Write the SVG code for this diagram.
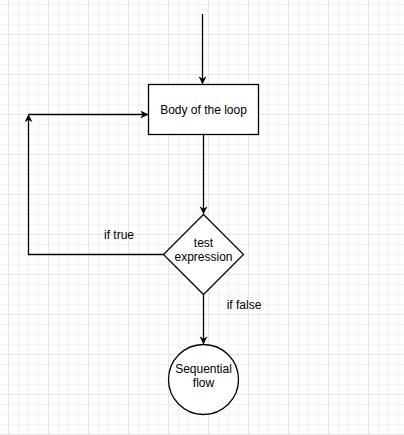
<svg xmlns="http://www.w3.org/2000/svg" width="404" height="435" viewBox="0 0 404 435">
<defs>
<pattern id="minor" width="10" height="10" patternUnits="userSpaceOnUse" x="8" y="4">
<path d="M0.5 0V10M0 0.5H10" fill="none" stroke="#f3f3f3" stroke-width="1"/>
</pattern>
<pattern id="major" width="40" height="40" patternUnits="userSpaceOnUse" x="8" y="34">
<path d="M0.5 0V40M0 0.5H40" fill="none" stroke="#e6e6e6" stroke-width="1"/>
</pattern>
<marker id="arr" viewBox="0 0 10 10" refX="9" refY="5" markerWidth="8" markerHeight="8" markerUnits="userSpaceOnUse" orient="auto">
<path d="M0 0L10 5L0 10L3 5Z" fill="#000"/>
</marker>
</defs>
<style>
.ln{fill:none;stroke:#000;stroke-width:1.3}
.sh{fill:#fff;stroke:#000;stroke-width:1.3}
.t{font-family:"Liberation Sans",Arial,sans-serif;font-size:12px;fill:#000;text-anchor:middle}
</style>
<rect width="404" height="435" fill="#fff"/>
<rect width="404" height="435" fill="url(#minor)"/>
<rect width="404" height="435" fill="url(#major)"/>
<g id="connectors">
<path class="ln" d="M202.5 14V83.5" marker-end="url(#arr)"/>
<path class="ln" d="M203.5 134.5V213.5" marker-end="url(#arr)"/>
<path class="ln" d="M163.5 254.5H28.5V115" marker-end="url(#arr)"/>
<path class="ln" d="M28.5 114.5H147.5" marker-end="url(#arr)"/>
<path class="ln" d="M203.5 294.5V343.5" marker-end="url(#arr)"/>
<text class="t" x="119" y="239">if true</text>
<text class="t" x="244" y="309">if false</text>
</g>
<g id="body">
<rect class="sh" x="148.5" y="84.5" width="110" height="50"/>
<text class="t" x="203.5" y="114">Body of the loop</text>
</g>
<g id="test">
<path class="sh" d="M203.5 214.5L243.5 254.5L203.5 294.5L163.5 254.5Z"/>
<text class="t" x="203.5" y="247">test</text>
<text class="t" x="203.5" y="261">expression</text>
</g>
<g id="sequential">
<circle class="sh" cx="203.5" cy="379.5" r="35"/>
<text class="t" x="203.5" y="373">Sequential</text>
<text class="t" x="203.5" y="387">flow</text>
</g>
</svg>
